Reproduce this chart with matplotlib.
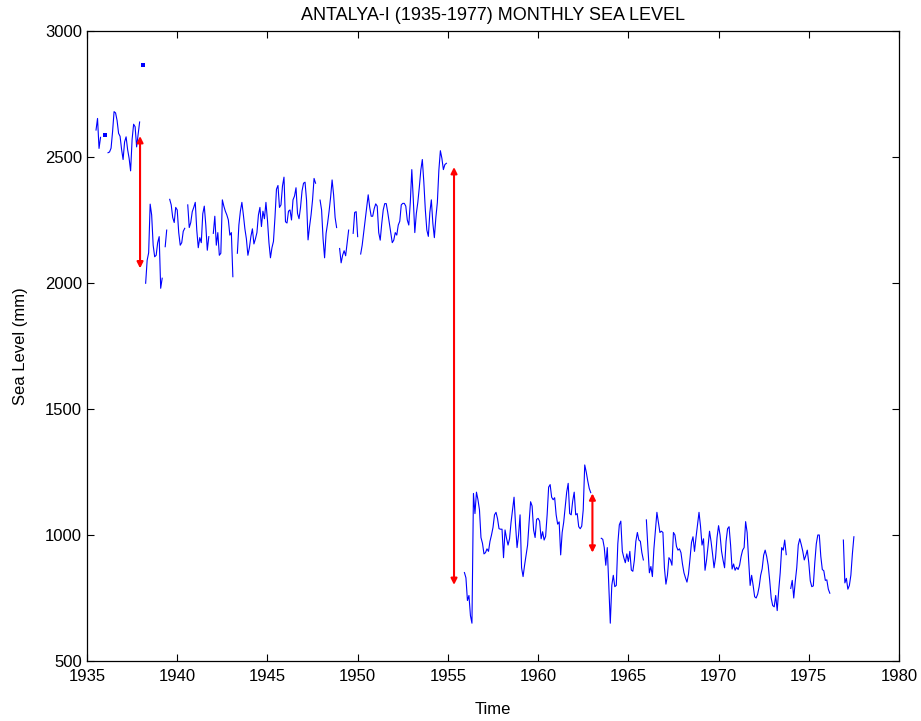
import numpy as np
import matplotlib
matplotlib.use("Agg")
import matplotlib.pyplot as plt

# ---- data: monthly sea level (mm), segments start "YYYY-MM" ----
seg_1935 = [2607, 2653, 2534, 2578]                                   # 1935-07
seg_1936a = [2586]                                                    # 1936-01
seg_1936b = [2517, 2520, 2535, 2600, 2680, 2675, 2645, 2594, 2582, 2530,
             2490, 2560, 2580, 2530, 2495, 2445, 2570, 2630, 2620, 2540,
             2590, 2639]                                              # 1936-03
seg_1938a = [2864]                                                    # 1938-02
seg_1938b = [1999, 2090, 2120, 2313, 2270, 2150, 2104, 2110, 2160, 2184,
             1979, 2019]                                              # 1938-04
seg_1939a = [2144, 2210]                                              # 1939-05
seg_1939b = [2332, 2310, 2260, 2240, 2300, 2290, 2200, 2150, 2160, 2205,
             2217]                                                    # 1939-08
seg_1940 = [2310, 2220, 2240, 2283, 2300, 2320, 2210, 2140, 2180, 2160,
            2275, 2305, 2230, 2130, 2184]                             # 1940-08
seg_1942 = [2197, 2265, 2150, 2200, 2110, 2118, 2330, 2305, 2285, 2270,
            2250, 2190, 2200, 2025]                                   # 1942-01
seg_1943 = [2118, 2230, 2285, 2320, 2270, 2215, 2175, 2110, 2140, 2185,
            2215, 2155, 2175, 2200, 2270, 2300, 2224, 2285, 2255, 2320,
            2250, 2160, 2100, 2140, 2165, 2260, 2372, 2387, 2300, 2310,
            2385, 2420, 2243, 2238, 2285, 2290, 2250, 2330, 2345, 2378,
            2276, 2255, 2300, 2365, 2396, 2400, 2329, 2171, 2224, 2270,
            2330, 2415, 2396]                                         # 1943-05
seg_1947 = [2329, 2290, 2175, 2100, 2197, 2237, 2285, 2340, 2409, 2350,
            2260, 2220]                                               # 1947-12
seg_1949a = [2137, 2080, 2110, 2128, 2108, 2160, 2210]                # 1949-01
seg_1949b = [2197, 2280, 2283, 2184]                                  # 1949-10
seg_1950 = [2115, 2150, 2200, 2250, 2300, 2350, 2300, 2265, 2265, 2295,
            2314, 2305, 2200, 2170, 2235, 2290, 2315, 2315, 2280, 2240,
            2200, 2160, 2170, 2200, 2190, 2230, 2245, 2310, 2316, 2316,
            2305, 2250, 2230, 2320, 2450, 2330, 2200, 2275, 2320, 2380,
            2448, 2490, 2400, 2290, 2210, 2185, 2280, 2330, 2237, 2180,
            2260, 2320, 2448, 2525, 2495, 2450, 2470, 2475]           # 1950-03
seg_1955 = [851, 830, 740, 760, 680, 650, 1165, 1085, 1170, 1140,
            1100, 990, 967, 925, 930, 945, 935, 975, 1000, 1030,
            1080, 1090, 1065, 1025, 1023, 1023, 910, 1020, 987, 960,
            985, 1050, 1100, 1150, 1040, 950, 1000, 1080, 870, 835,
            880, 920, 960, 1050, 1132, 1115, 1020, 990, 1062, 1066,
            1055, 985, 1013, 980, 995, 1080, 1190, 1200, 1150, 1140,
            1148, 1080, 1043, 1052, 921, 1010, 1050, 1110, 1170, 1205,
            1085, 1080, 1135, 1170, 1080, 1085, 1033, 1025, 1035, 1100,
            1278, 1250, 1215, 1185, 1168]                             # 1955-12
seg_1963 = [987, 983, 950, 880, 950, 800, 650, 800, 840, 795,
            800, 965, 1040, 1055, 935, 910, 890, 925, 895, 935,
            861, 856, 900, 975, 1010, 980, 975, 930, 901]             # 1963-07
seg_1966 = [1060, 950, 850, 875, 835, 945, 1020, 1090, 1050, 1010,
            1015, 1010, 870, 805, 840, 910, 901, 880, 1010, 1000,
            955, 940, 945, 930, 885, 850, 830, 813, 845, 905,
            970, 993, 935, 990, 1040, 1090, 1035, 960, 985, 860,
            900, 955, 1015, 975, 925, 870, 910, 990, 1037, 1000,
            935, 900, 870, 975, 1025, 1033, 960, 865, 885, 860,
            872, 863, 880, 915, 940, 950, 1053, 1010, 900, 800,
            840, 800, 755, 750, 765, 795, 840, 866, 920, 940,
            915, 880, 820, 750, 720, 715, 760, 700, 780, 850,
            950, 940, 980, 922]                                       # 1966-01
seg_1974 = [788, 820, 750, 815, 870, 960, 985, 962, 936, 901,
            918, 940, 890, 818, 795, 798, 890, 965, 1000, 1000,
            915, 863, 858, 820, 822, 785, 769]                        # 1974-01
seg_1976 = [980, 810, 828, 785, 800, 841, 925, 993]                   # 1976-12

segment_starts = ["1935-07", "1936-01", "1936-03", "1938-02", "1938-04",
                  "1939-05", "1939-08", "1940-08", "1942-01", "1943-05",
                  "1947-12", "1949-01", "1949-10", "1950-03", "1955-12",
                  "1963-07", "1966-01", "1974-01", "1976-12"]
segments = [seg_1935, seg_1936a, seg_1936b, seg_1938a, seg_1938b,
            seg_1939a, seg_1939b, seg_1940, seg_1942, seg_1943,
            seg_1947, seg_1949a, seg_1949b, seg_1950, seg_1955,
            seg_1963, seg_1966, seg_1974, seg_1976]

# shift arrows (year, upper level, lower level)
arrow_year = [1937.94, 1955.34, 1963.01]
arrow_top = [2583, 2460, 1165]
arrow_bottom = [2058, 802, 930]

x_ticks = [1935, 1940, 1945, 1950, 1955, 1960, 1965, 1970, 1975, 1980]
y_ticks = [500, 1000, 1500, 2000, 2500, 3000]

# ---- build monthly series ----
first_year = 1935
n_months = 43 * 12
level = np.full(n_months, np.nan)
for start, vals in zip(segment_starts, segments):
    y, m = map(int, start.split("-"))
    i = (y - first_year) * 12 + (m - 1)
    level[i:i + len(vals)] = vals
time = first_year + np.arange(n_months) / 12.0

# ---- plot ----
plt.rcParams["font.family"] = ["Liberation Sans", "DejaVu Sans"]
fig = plt.figure(figsize=(9.21, 7.21), dpi=100)
ax = fig.add_axes([87 / 921, 60 / 721, 812 / 921, 630 / 721])

ax.plot(time, level, color="blue", lw=0.8)
ok = ~np.isnan(level)
prev_ok = np.r_[False, ok[:-1]]
next_ok = np.r_[ok[1:], False]
iso = ok & ~prev_ok & ~next_ok
ax.plot(time[iso], level[iso], ls="none", marker="s", ms=2.8, mew=0, color="blue")

for xa, yt, yb in zip(arrow_year, arrow_top, arrow_bottom):
    ax.annotate("", xy=(xa, yt), xytext=(xa, yb),
                arrowprops=dict(arrowstyle="<|-|>", color="red", lw=1.5,
                                mutation_scale=9, shrinkA=0, shrinkB=0))

ax.set_xlim(1935, 1980)
ax.set_ylim(500, 3000)
ax.set_xticks(x_ticks)
ax.set_yticks(y_ticks)
ax.tick_params(direction="in", length=5, top=True, right=True, labelsize=12, width=0.8)
ax.tick_params(axis="x", pad=6)
for s in ax.spines.values():
    s.set_linewidth(0.9)

ax.set_title("ANTALYA-I (1935-1977) MONTHLY SEA LEVEL", fontsize=13, pad=8)
ax.set_xlabel("Time", fontsize=12, labelpad=13)
ax.set_ylabel("Sea Level (mm)", fontsize=12, labelpad=12)

fig.savefig("out.png", dpi=100)
